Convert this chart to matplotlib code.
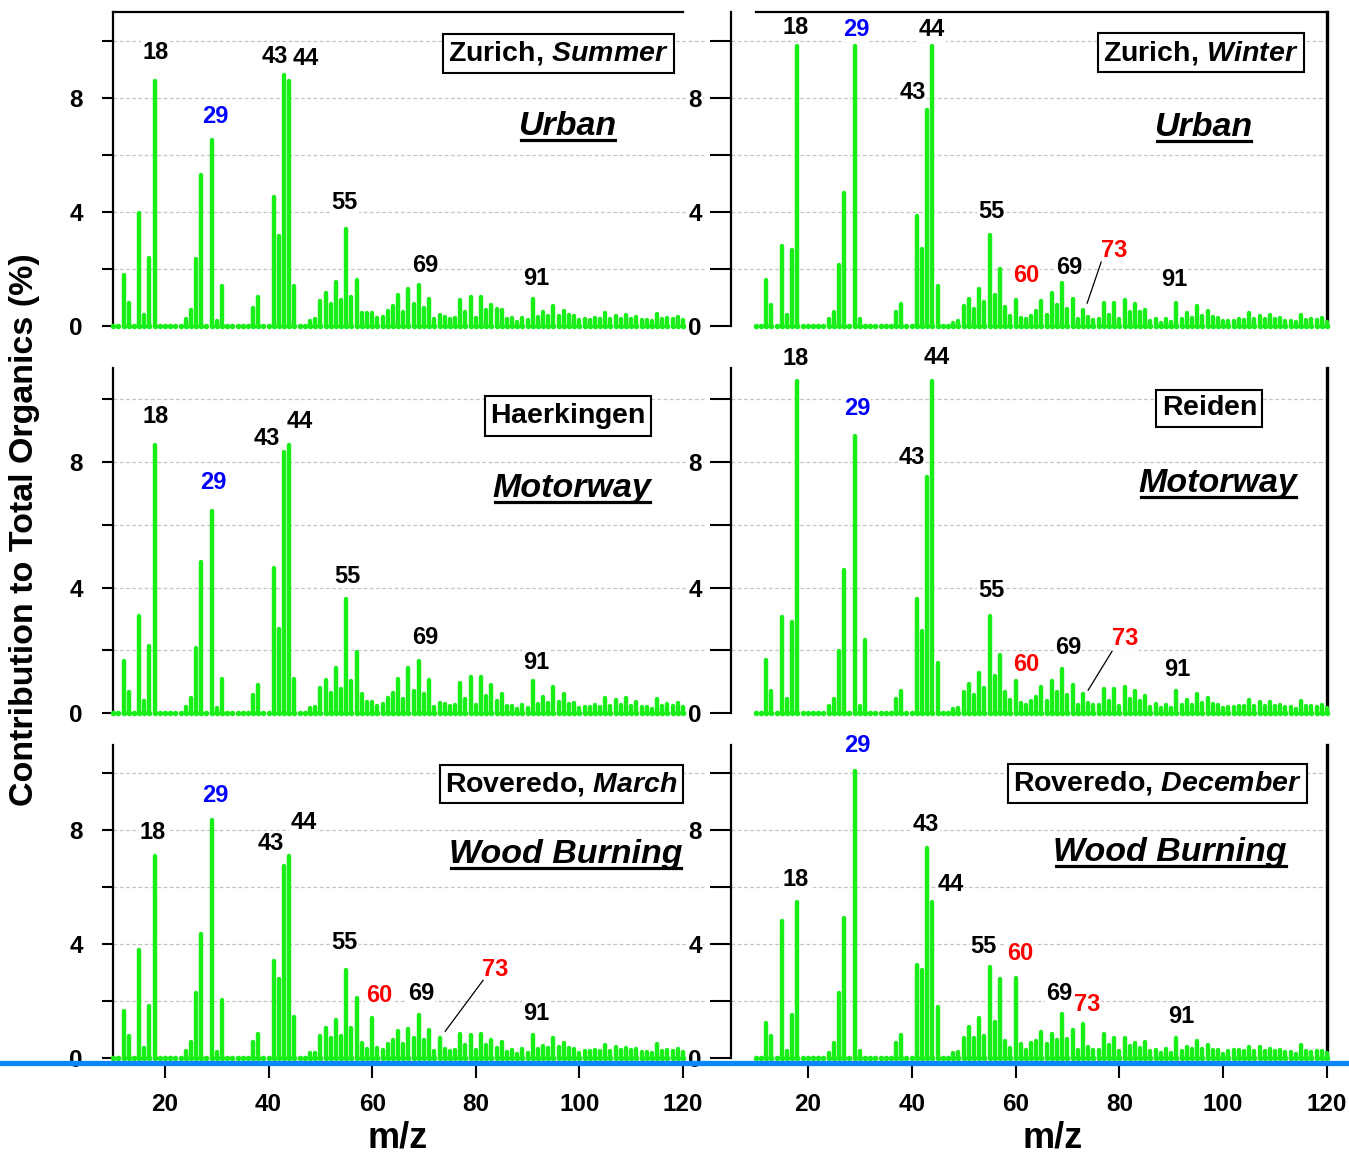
import numpy as np
import matplotlib
matplotlib.use("Agg")
import matplotlib.pyplot as plt
from matplotlib.lines import Line2D

plt.rcParams['font.family'] = ['Liberation Sans', 'DejaVu Sans']
plt.rcParams['font.weight'] = 'bold'
plt.rcParams['mathtext.fontset'] = 'custom'
plt.rcParams['mathtext.rm'] = 'Liberation Sans:bold'
plt.rcParams['mathtext.it'] = 'Liberation Sans:italic:bold'

# ---- data: contribution to total organics (%) for m/z 10..120 ----
mz = np.arange(10, 121)

zurich_summer = [
    0, 0, 1.8, 0.82, 0, 3.96, 0.4, 2.39, 8.6, 0,
    0, 0, 0, 0, 0.25, 0.56, 2.33, 5.3, 0, 6.5,
    0.17, 1.4, 0, 0, 0, 0, 0, 0.64, 1.0, 0,
    0, 4.52, 3.15, 8.78, 8.6, 1.4, 0, 0, 0.17, 0.25,
    0.87, 1.17, 0.76, 1.53, 0.9, 3.4, 1.03, 1.6, 0.44, 0.47,
    0.44, 0.27, 0.3, 0.52, 0.69, 1.1, 0.5, 1.31, 0.76, 1.43,
    0.62, 0.95, 0.26, 0.37, 0.3, 0.23, 0.28, 0.9, 0.5, 1.02,
    0.28, 1.0, 0.55, 0.74, 0.6, 0.56, 0.26, 0.28, 0.15, 0.29,
    0.2, 0.93, 0.31, 0.49, 0.34, 0.69, 0.35, 0.51, 0.4, 0.34,
    0.21, 0.23, 0.21, 0.27, 0.24, 0.45, 0.23, 0.36, 0.26, 0.38,
    0.23, 0.3, 0.2, 0.22, 0.16, 0.43, 0.23, 0.28, 0.23, 0.3,
    0.2]

zurich_winter = [
    0, 0, 1.62, 0.75, 0, 2.81, 0.4, 2.67, 9.8, 0,
    0, 0, 0, 0, 0.23, 0.49, 2.12, 4.65, 0, 9.8,
    0.23, 0, 0, 0, 0, 0, 0, 0.49, 0.78, 0,
    0, 3.85, 2.7, 7.56, 9.8, 1.4, 0, 0, 0.12, 0.17,
    0.69, 0.94, 0.6, 1.31, 0.84, 3.2, 1.09, 2.0, 0.67, 0.36,
    0.9, 0.29, 0.24, 0.36, 0.52, 0.88, 0.4, 1.14, 0.72, 1.49,
    0.58, 0.95, 0.24, 0.56, 0.3, 0.22, 0.26, 0.79, 0.4, 0.81,
    0.23, 0.9, 0.49, 0.77, 0.48, 0.57, 0.19, 0.23, 0.12, 0.24,
    0.14, 0.8, 0.26, 0.44, 0.28, 0.69, 0.35, 0.52, 0.3, 0.28,
    0.17, 0.19, 0.19, 0.23, 0.22, 0.45, 0.24, 0.35, 0.23, 0.37,
    0.23, 0.28, 0.19, 0.19, 0.13, 0.37, 0.21, 0.23, 0.2, 0.28,
    0.15]

haerkingen = [
    0, 0, 1.65, 0.67, 0, 3.08, 0.37, 2.15, 8.55, 0,
    0, 0, 0, 0, 0.19, 0.48, 2.07, 4.83, 0, 6.44,
    0.16, 1.09, 0, 0, 0, 0, 0, 0.56, 0.88, 0,
    0, 4.62, 2.69, 8.33, 8.55, 1.09, 0, 0, 0.16, 0.2,
    0.8, 1.05, 0.65, 1.45, 0.78, 3.65, 1.02, 1.95, 0.6, 0.34,
    0.34, 0.22, 0.28, 0.49, 0.64, 1.1, 0.46, 1.44, 0.7, 1.66,
    0.62, 1.06, 0.2, 0.31, 0.3, 0.23, 0.24, 0.97, 0.44, 1.14,
    0.25, 1.15, 0.53, 0.89, 0.38, 0.6, 0.21, 0.23, 0.14, 0.25,
    0.15, 1.02, 0.28, 0.5, 0.33, 0.84, 0.35, 0.6, 0.28, 0.32,
    0.16, 0.18, 0.18, 0.24, 0.2, 0.48, 0.21, 0.4, 0.24, 0.47,
    0.23, 0.34, 0.19, 0.2, 0.14, 0.45, 0.21, 0.28, 0.22, 0.31,
    0.2]

reiden = [
    0, 0, 1.68, 0.71, 0, 3.05, 0.45, 2.9, 10.6, 0,
    0, 0, 0, 0, 0.21, 0.46, 1.99, 4.56, 0, 8.84,
    0.21, 2.34, 0, 0, 0, 0, 0, 0.46, 0.71, 0,
    0, 3.63, 2.62, 7.54, 10.6, 1.6, 0, 0, 0.13, 0.16,
    0.68, 0.91, 0.57, 1.26, 0.81, 3.1, 1.18, 1.86, 0.68, 0.41,
    1.02, 0.31, 0.25, 0.37, 0.5, 0.82, 0.39, 1.03, 0.68, 1.39,
    0.56, 0.9, 0.24, 0.59, 0.33, 0.27, 0.27, 0.76, 0.37, 0.75,
    0.22, 0.83, 0.46, 0.7, 0.37, 0.53, 0.2, 0.28, 0.16, 0.27,
    0.17, 0.71, 0.24, 0.41, 0.27, 0.62, 0.33, 0.49, 0.29, 0.24,
    0.16, 0.18, 0.18, 0.23, 0.21, 0.4, 0.23, 0.34, 0.22, 0.36,
    0.22, 0.27, 0.19, 0.18, 0.14, 0.37, 0.21, 0.23, 0.19, 0.25,
    0.17]

roveredo_march = [
    0, 0, 1.65, 0.78, 0, 3.81, 0.34, 1.82, 7.1, 0,
    0, 0, 0, 0, 0.23, 0.55, 2.3, 4.37, 0, 8.36,
    0.22, 2.03, 0, 0, 0, 0, 0, 0.55, 0.84, 0,
    0, 3.4, 2.76, 6.76, 7.1, 1.43, 0, 0, 0.17, 0.19,
    0.77, 1.06, 0.71, 1.34, 0.77, 3.09, 1.05, 2.1, 0.53, 0.32,
    1.4, 0.34, 0.28, 0.49, 0.63, 0.94, 0.49, 1.01, 0.72, 1.52,
    0.62, 0.98, 0.23, 0.71, 0.33, 0.26, 0.29, 0.86, 0.44, 0.8,
    0.27, 0.86, 0.47, 0.65, 0.36, 0.56, 0.21, 0.27, 0.15, 0.31,
    0.19, 0.82, 0.3, 0.42, 0.35, 0.69, 0.37, 0.52, 0.34, 0.31,
    0.17, 0.24, 0.24, 0.28, 0.26, 0.44, 0.26, 0.37, 0.28, 0.36,
    0.27, 0.3, 0.21, 0.22, 0.16, 0.48, 0.24, 0.28, 0.24, 0.3,
    0.22]

roveredo_december = [
    0, 0, 1.22, 0.76, 0, 4.8, 0.23, 1.5, 5.48, 0,
    0, 0, 0, 0, 0.19, 0.51, 2.27, 4.92, 0, 10.08,
    0.26, 0, 0, 0, 0, 0, 0, 0.51, 0.82, 0,
    0, 3.28, 3.09, 7.39, 5.48, 1.8, 0, 0, 0.19, 0.21,
    0.72, 1.1, 0.71, 1.39, 0.76, 3.19, 1.27, 2.77, 0.59, 0.36,
    2.81, 0.49, 0.28, 0.54, 0.59, 0.9, 0.48, 0.84, 0.65, 1.53,
    0.68, 0.99, 0.28, 1.19, 0.37, 0.28, 0.28, 0.86, 0.44, 0.69,
    0.24, 0.72, 0.43, 0.54, 0.34, 0.56, 0.23, 0.27, 0.16, 0.3,
    0.16, 0.72, 0.23, 0.37, 0.31, 0.61, 0.3, 0.47, 0.27, 0.27,
    0.15, 0.24, 0.27, 0.28, 0.23, 0.4, 0.23, 0.37, 0.26, 0.33,
    0.26, 0.28, 0.2, 0.2, 0.15, 0.47, 0.23, 0.22, 0.24, 0.26,
    0.17]

sites = [r"$\mathrm{Zurich{,}\ }\mathit{Summer}$", r"$\mathrm{Zurich{,}\ }\mathit{Winter}$",
         r"$\mathrm{Haerkingen}$", r"$\mathrm{Reiden}$",
         r"$\mathrm{Roveredo{,}\ }\mathit{March}$", r"$\mathrm{Roveredo{,}\ }\mathit{December}$"]
sources = ["Urban", "Urban", "Motorway", "Motorway", "Wood Burning", "Wood Burning"]
spectra = [zurich_summer, zurich_winter, haerkingen, reiden, roveredo_march, roveredo_december]

# peak labels: (text, x, y, colour)
BLK, BLU, RED = 'black', '#0000ff', '#ff0000'
peak_labels = [
    [("18", 18.1, 9.58, BLK), ("29", 29.65, 7.34, BLU), ("43", 41.2, 9.44, BLK),
     ("44", 47.2, 9.37, BLK), ("55", 54.7, 4.34, BLK), ("69", 70.2, 2.13, BLK),
     ("91", 91.6, 1.68, BLK)],
    [("18", 17.7, 10.45, BLK), ("29", 29.3, 10.38, BLU), ("44", 43.9, 10.38, BLK),
     ("43", 40.25, 8.18, BLK), ("55", 55.3, 4.02, BLK), ("60", 62.0, 1.78, RED),
     ("69", 70.3, 2.06, BLK), ("73", 79.0, 2.66, RED), ("91", 90.5, 1.64, BLK)],
    [("18", 18.1, 9.46, BLK), ("29", 29.3, 7.36, BLU), ("43", 39.7, 8.76, BLK),
     ("44", 46.1, 9.3, BLK), ("55", 55.3, 4.36, BLK), ("69", 70.2, 2.42, BLK),
     ("91", 91.6, 1.62, BLK)],
    [("18", 17.7, 11.3, BLK), ("44", 44.9, 11.34, BLK), ("29", 29.5, 9.71, BLU),
     ("43", 40.1, 8.15, BLK), ("55", 55.3, 3.89, BLK), ("60", 62.0, 1.56, RED),
     ("69", 70.1, 2.1, BLK), ("73", 81.1, 2.36, RED), ("91", 91.1, 1.4, BLK)],
    [("29", 29.65, 9.23, BLU), ("18", 17.7, 7.94, BLK), ("43", 40.5, 7.55, BLK),
     ("44", 46.7, 8.29, BLK), ("55", 54.7, 4.06, BLK), ("60", 61.3, 2.2, RED),
     ("69", 69.4, 2.27, BLK), ("73", 83.7, 3.11, RED), ("91", 91.6, 1.57, BLK)],
    [("29", 29.5, 10.98, BLU), ("43", 42.8, 8.22, BLK), ("18", 17.7, 6.29, BLK),
     ("44", 47.6, 6.08, BLK), ("55", 53.9, 3.92, BLK), ("60", 60.9, 3.67, RED),
     ("69", 68.4, 2.27, BLK), ("73", 73.8, 1.89, RED), ("91", 91.9, 1.47, BLK)],
]
leaders = [None, ((76.5, 2.24), (73.8, 0.8)), None, ((78.6, 1.97), (74.0, 0.73)),
           ((81.4, 2.73), (74.1, 0.94)), None]
site_pos = [(95.9, 9.55), (95.7, 9.58), (97.8, 9.46), (97.3, 9.71), (96.5, 9.62), (87.3, 9.65)]
source_pos = [(97.6, 6.68), (96.1, 6.64), (98.6, 6.88), (99.0, 7.04), (97.3, 6.85), (89.8, 6.92)]

GREEN = '#19ee19'
W, H = 1349, 1159
fig = plt.figure(figsize=(W / 100, H / 100), dpi=100)

rows = [(12, 326), (368, 713), (745, 1058)]
cols = [(113.2, 683.0, 10.0), (731.0, 1327.0, 5.2)]

axes = []
for r, (y0, y1) in enumerate(rows):
    for c, (x0, x1, xmin) in enumerate(cols):
        i = 2 * r + c
        ax = fig.add_axes([x0 / W, 1 - y1 / H, (x1 - x0) / W, (y1 - y0) / H])
        ax.set_xlim(xmin, 120)
        ax.set_ylim(0, 11)
        ax.patch.set_alpha(0)
        vals = np.array(spectra[i])

        # grid
        gx1 = 124 if c == 0 else 120
        ax.hlines([2, 4, 6, 8, 10], xmin, gx1, colors='#c4c4c4', linestyles=(0, (3, 2)),
                  linewidth=0.9, zorder=0, clip_on=False)

        ax.vlines(mz, 0, vals, colors=GREEN, linewidth=3.2, capstyle='round',
                  zorder=3, clip_on=False)
        ax.plot(mz, np.zeros_like(vals), 'o', ms=4.0, color=GREEN, mec='none',
                zorder=3, clip_on=False)

        # spines
        ax.spines['bottom'].set_visible(False)
        ax.spines['left'].set_linewidth(1.6)
        ax.spines['top'].set_visible(False)
        if c == 0:
            ax.spines['right'].set_visible(False)
            if r == 0:
                ax.spines['top'].set_visible(True)
                ax.spines['top'].set_linewidth(1.6)
        else:
            ax.spines['right'].set_linewidth(2.4)
            if r == 0:
                ax.plot([10, 120], [11, 11], color='black', lw=1.6, clip_on=False)

        ax.set_yticks([0, 4, 8])
        ax.set_yticks([2, 6, 10], minor=True)
        tl = 8 if c == 0 else 15
        pad = 14 if c == 0 else 6
        ax.tick_params(axis='y', which='both', direction='out', length=tl, width=1.5,
                       labelsize=17.5, pad=pad)
        for lab in ax.get_yticklabels():
            lab.set_fontweight('bold')
            lab.set_bbox(dict(fc='white', ec='none', pad=1))

        if r == 2:
            ax.set_xticks([20, 40, 60, 80, 100, 120])
            ax.tick_params(axis='x', direction='out', length=14.5, width=1.5,
                           labelsize=17.5, pad=11)
            for lab in ax.get_xticklabels():
                lab.set_fontweight('bold')
        else:
            ax.set_xticks([])

        for txt, x, y, col in peak_labels[i]:
            ax.text(x, y, txt, color=col, fontsize=17, fontweight='bold', ha='center',
                    va='center', zorder=5, clip_on=False,
                    bbox=dict(fc='white', ec='none', pad=0.5))
        if leaders[i] is not None:
            (lx0, ly0), (lx1, ly1) = leaders[i]
            ax.plot([lx0, lx1], [ly0, ly1], color='black', lw=0.9, zorder=5)

        ax.text(site_pos[i][0], site_pos[i][1], sites[i], fontsize=20.5, ha='center',
                va='center', zorder=6,
                bbox=dict(boxstyle='square,pad=0.18', fc='white', ec='black', lw=1.5))
        st = ax.text(source_pos[i][0], source_pos[i][1], sources[i], fontsize=24.5,
                     fontweight='bold', fontstyle='italic', ha='center', va='baseline',
                     zorder=6)
        axes.append((ax, st))

# underline the source-type labels
fig.canvas.draw()
rend = fig.canvas.get_renderer()
for ax, st in axes:
    bb = st.get_window_extent(rend)
    base = ax.transData.transform(st.get_position())[1]
    yline = (base - 4.5) / H
    fig.add_artist(Line2D([bb.x0 / W + 0.002, bb.x1 / W - 0.001], [yline, yline],
                          transform=fig.transFigure, color='black', lw=2.3))

# blue baseline bar across the figure
fig.add_artist(Line2D([0, 1], [1 - 1063 / H, 1 - 1063 / H], transform=fig.transFigure,
                      color='#0a86ff', lw=3.8, zorder=10))

fig.text(25 / W, 1 - 530 / H, "Contribution to Total Organics (%)", rotation=90,
         fontsize=24.5, fontweight='bold', ha='center', va='center')
fig.text(398 / W, 1 - 1138 / H, "m/z", fontsize=26, fontweight='bold', ha='center', va='center')
fig.text(1053 / W, 1 - 1138 / H, "m/z", fontsize=26, fontweight='bold', ha='center', va='center')

fig.savefig("out.png", dpi=100)
